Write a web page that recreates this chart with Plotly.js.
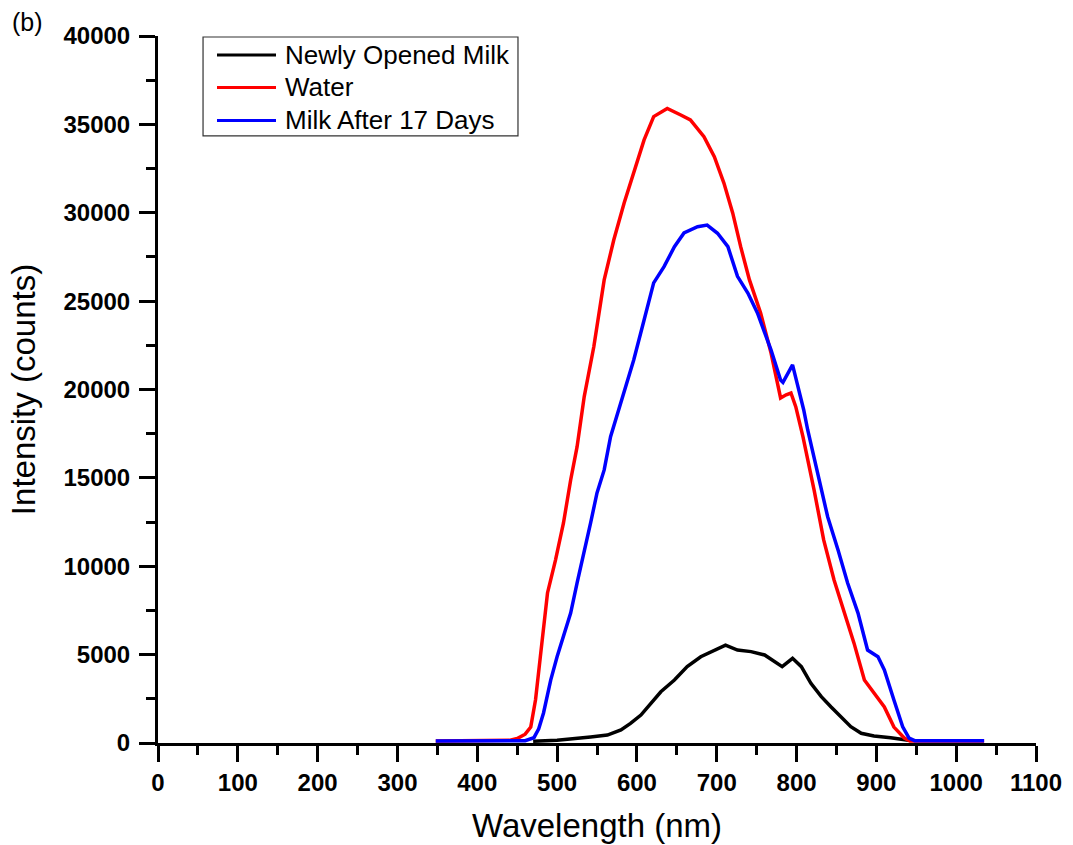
<!DOCTYPE html>
<html>
<head>
<meta charset="utf-8">
<script src="https://cdn.plot.ly/plotly-3.0.1.min.js"></script>
<style>
  html, body { margin: 0; padding: 0; background: #ffffff; }
  #chart { width: 1073px; height: 845px; }
</style>
</head>
<body>
<div id="chart"></div>
<script>
// ---- Data ----
const seriesNames = ["Newly Opened Milk", "Water", "Milk After 17 Days"];
const seriesColors = ["#000000", "#ff0000", "#0000ff"];

const milkNewWavelength = [470, 500, 542, 563, 580, 592, 605, 617, 630, 647, 663, 680, 697, 711, 726, 743, 760, 772, 782, 795, 806, 818, 831, 843, 856, 868, 881, 897, 918, 940];
const milkNewIntensity  = [100, 150, 340, 450, 740, 1110, 1580, 2250, 2900, 3560, 4320, 4880, 5260, 5540, 5260, 5170, 4980, 4600, 4320, 4790, 4320, 3380, 2620, 2050, 1490, 920, 550, 400, 300, 150];

const waterWavelength = [348, 400, 440, 450, 460, 467, 473, 479, 488, 498, 508, 517, 525, 534, 546, 559, 571, 584, 596, 609, 621, 638, 655, 667, 684, 697, 709, 720, 730, 741, 755, 768, 776, 780, 787, 793, 799, 808, 822, 834, 847, 860, 872, 885, 897, 910, 922, 935, 942, 980, 1035];
const waterIntensity  = [120, 120, 150, 250, 500, 900, 2450, 4870, 8490, 10350, 12450, 14880, 16750, 19600, 22420, 26200, 28460, 30550, 32250, 34120, 35440, 35900, 35530, 35250, 34300, 33170, 31680, 29990, 28080, 26200, 24330, 22070, 20370, 19520, 19700, 19800, 19030, 17330, 14310, 11490, 9220, 7350, 5650, 3560, 2830, 2040, 900, 280, 120, 120, 120];

const milk17Wavelength = [348, 400, 460, 471, 477, 483, 492, 500, 508, 517, 525, 534, 542, 550, 559, 567, 576, 584, 596, 609, 621, 634, 647, 659, 676, 688, 701, 714, 726, 739, 751, 768, 780, 783, 795, 801, 809, 814, 826, 839, 852, 864, 877, 889, 902, 910, 922, 933, 941, 948, 1000, 1035];
const milk17Intensity  = [120, 120, 130, 300, 800, 1700, 3560, 4880, 6010, 7350, 9050, 10750, 12450, 14150, 15450, 17330, 18700, 19900, 21670, 23930, 26030, 26950, 28080, 28860, 29210, 29300, 28840, 28080, 26400, 25460, 24330, 22240, 20540, 20400, 21390, 20300, 18840, 17710, 15280, 12800, 10920, 9050, 7350, 5260, 4880, 4130, 2430, 920, 280, 130, 130, 130];

const xTickValues = [0, 100, 200, 300, 400, 500, 600, 700, 800, 900, 1000, 1100];
const xTickLabels = ["0", "100", "200", "300", "400", "500", "600", "700", "800", "900", "1000", "1100"];
const yTickValues = [0, 5000, 10000, 15000, 20000, 25000, 30000, 35000, 40000];
const yTickLabels = ["0", "5000", "10000", "15000", "20000", "25000", "30000", "35000", "40000"];

// ---- Chart ----
const FONT = "Liberation Sans, Arial, Helvetica, sans-serif";

const traces = [
  { x: milkNewWavelength, y: milkNewIntensity, name: seriesNames[0], type: "scatter", mode: "lines",
    line: { color: seriesColors[0], width: 3.5 } },
  { x: waterWavelength, y: waterIntensity, name: seriesNames[1], type: "scatter", mode: "lines",
    line: { color: seriesColors[1], width: 3.5 } },
  { x: milk17Wavelength, y: milk17Intensity, name: seriesNames[2], type: "scatter", mode: "lines",
    line: { color: seriesColors[2], width: 3.5 } }
];

const axisCommon = {
  showline: true, linecolor: "#000", linewidth: 3,
  ticks: "outside", ticklen: 16, tickwidth: 3, tickcolor: "#000",
  showgrid: false, zeroline: false,
  tickfont: { family: FONT, size: 24, color: "#000", weight: "bold" },
  mirror: false
};

// Legend drawn as a boxed key in paper coordinates (layout only, no data)
const legendBox = { x0: 0.0513, x1: 0.4100, y0: 0.8586, y1: 0.9986 };
const legendRowY = [0.9731, 0.9272, 0.8805];
const legendLineX = [0.0672, 0.1344];
const legendTextX = 0.1424;

const shapes = [
  { type: "rect", xref: "paper", yref: "paper", x0: legendBox.x0, x1: legendBox.x1, y0: legendBox.y0, y1: legendBox.y1,
    line: { color: "#333333", width: 1.2 }, fillcolor: "#ffffff", layer: "above" }
];
const annotations = [
  { text: "(b)", xref: "paper", yref: "paper", x: -0.1686, y: 1.0426, xanchor: "left", yanchor: "top",
    showarrow: false, font: { family: FONT, size: 25, color: "#000" } }
];
seriesNames.forEach((name, i) => {
  shapes.push({ type: "line", xref: "paper", yref: "paper", x0: legendLineX[0], x1: legendLineX[1],
    y0: legendRowY[i], y1: legendRowY[i], line: { color: seriesColors[i], width: 3 }, layer: "above" });
  annotations.push({ text: name, xref: "paper", yref: "paper", x: legendTextX, y: legendRowY[i],
    xanchor: "left", yanchor: "middle", showarrow: false,
    font: { family: FONT, size: 26, color: "#000" } });
});

const layout = {
  width: 1073, height: 845,
  paper_bgcolor: "#ffffff", plot_bgcolor: "#ffffff",
  margin: { l: 158, r: 37, t: 36, b: 102, pad: 0 },
  showlegend: false,
  xaxis: Object.assign({}, axisCommon, {
    range: [0, 1100], tickmode: "array", tickvals: xTickValues, ticktext: xTickLabels,
    minor: { dtick: 50, ticklen: 9, tickwidth: 3, tickcolor: "#000", ticks: "outside", showgrid: false },
    title: { text: "Wavelength (nm)", font: { family: FONT, size: 33, color: "#000" }, standoff: 20 }
  }),
  yaxis: Object.assign({}, axisCommon, {
    range: [0, 40000], tickmode: "array", tickvals: yTickValues, ticktext: yTickLabels,
    ticklabelstandoff: 4,
    minor: { dtick: 2500, ticklen: 9, tickwidth: 3, tickcolor: "#000", ticks: "outside", showgrid: false },
    title: { text: "Intensity (counts)", font: { family: FONT, size: 33, color: "#000" }, standoff: 18 }
  }),
  shapes: shapes,
  annotations: annotations
};

Plotly.newPlot("chart", traces, layout, { displayModeBar: false, staticPlot: true });
</script>
</body>
</html>
